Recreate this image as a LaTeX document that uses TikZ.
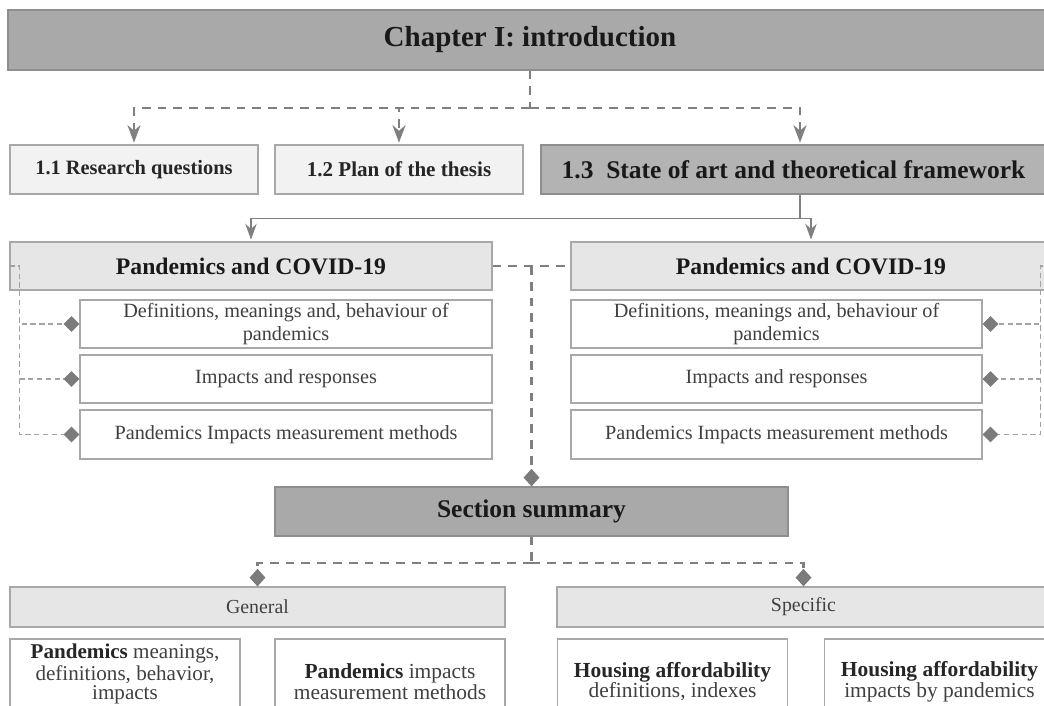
\documentclass[tikz,border=0pt]{standalone}
\usepackage{fontspec}
\setmainfont{Liberation Serif}
\usetikzlibrary{arrows.meta}

\definecolor{darkbox}{HTML}{A9A9A9}
\definecolor{soabox}{HTML}{B3B3B3}
\definecolor{midbox}{HTML}{E6E6E6}
\definecolor{lightbox}{HTML}{F2F2F2}
\definecolor{boxline}{HTML}{A8A8A8}
\definecolor{darkline}{HTML}{8E8E8E}
\definecolor{linkgray}{HTML}{808080}
\definecolor{sidegray}{HTML}{A3A3A3}
\definecolor{tipgray}{HTML}{7B7B7B}
\definecolor{textgray}{HTML}{404040}

\begin{document}
\begin{tikzpicture}[x=0.02cm,y=-0.02cm,
    box/.style={rectangle,draw=boxline,line width=0.7pt,inner sep=0pt,align=center},
    dark node/.style={box,fill=darkbox,draw=darkline,text=black!90},
    light node/.style={box,fill=lightbox,text=black!85},
    mid node/.style={box,fill=midbox,text=black!90},
    item node/.style={box,fill=white,text=textgray,
      font=\fontsize{11.5}{13}\selectfont,minimum height=0.96cm},
    leaf node/.style={box,fill=white,text=textgray,minimum width=4.6cm,
      minimum height=1.7cm,font=\fontsize{12.2}{11.8}\selectfont},
    dash link/.style={draw=linkgray,line width=1.2pt,dash pattern=on 5pt off 4pt},
    dash arrow/.style={dash link,-{Stealth[length=10pt,width=7.5pt]},shorten >=1pt},
    dash diamond/.style={dash link,-{Diamond[length=10pt,width=9pt,color=tipgray]}},
    solid link/.style={draw=linkgray,line width=0.7pt},
    solid arrow/.style={solid link,-{Stealth[length=9pt,width=6.5pt]},shorten >=1pt},
    side link/.style={draw=sidegray,line width=0.6pt,dash pattern=on 3pt off 2pt,
      -{Diamond[length=9pt,width=9pt,color=tipgray]}}]

    \useasboundingbox (0,0) rectangle (1044,706);

    % chapter and sections
    \node[dark node,minimum width=20.88cm,minimum height=1.2cm,
      font=\fontsize{16.5}{19}\selectfont\bfseries] (chap) at (530,40) {Chapter I: introduction};
    \node[light node,minimum width=4.96cm,minimum height=0.98cm,
      font=\fontsize{11.6}{14}\selectfont\bfseries] (rq) at (134,169.5) {1.1\ Research questions};
    \node[light node,minimum width=4.96cm,minimum height=0.98cm,
      font=\fontsize{12}{14}\selectfont\bfseries] (plan) at (399,169.5) {1.2 Plan of the thesis};
    \node[dark node,fill=soabox,minimum width=10.1cm,minimum height=0.98cm,
      font=\fontsize{14.5}{17}\selectfont\bfseries] (soa) at (793.5,169.5) {1.3\ \ State of art and theoretical framework};

    % pandemics blocks
    \node[mid node,minimum width=9.64cm,minimum height=0.96cm,
      font=\fontsize{13.5}{16}\selectfont\bfseries] (lpand) at (251,266) {Pandemics and COVID-19};
    \node[mid node,minimum width=9.6cm,minimum height=0.96cm,
      font=\fontsize{13.5}{16}\selectfont\bfseries] (rpand) at (811,266) {Pandemics and COVID-19};

    \node[item node,minimum width=8.24cm] (ldef) at (286,324) {Definitions, meanings and, behaviour of\\pandemics};
    \node[item node,minimum width=8.24cm] (limp) at (286,379) {Impacts and responses};
    \node[item node,minimum width=8.24cm,minimum height=0.98cm] (lmeth) at (286,434.5) {Pandemics Impacts measurement methods};
    \node[item node,minimum width=8.22cm] (rdef) at (776.5,324) {Definitions, meanings and, behaviour of\\pandemics};
    \node[item node,minimum width=8.22cm] (rimp) at (776.5,379) {Impacts and responses};
    \node[item node,minimum width=8.22cm,minimum height=0.98cm] (rmeth) at (776.5,434.5) {Pandemics Impacts measurement methods};

    % summary
    \node[dark node,minimum width=10.26cm,minimum height=0.98cm,
      font=\fontsize{14.5}{17}\selectfont\bfseries] (summ) at (531.5,511.5) {Section summary};
    \node[mid node,minimum width=9.9cm,minimum height=0.8cm,text=textgray,
      font=\fontsize{11.3}{13}\selectfont] (gen) at (257.5,607) {General};
    \node[mid node,minimum width=9.86cm,minimum height=0.8cm,text=textgray,
      font=\fontsize{11.3}{13}\selectfont] (spec) at (803.5,607) {Specific};

    \node[leaf node,font=\fontsize{12}{11}\selectfont,text depth=11pt] (gmean) at (125,681.5) {\textbf{\color{black!85}Pandemics} meanings,\\definitions, behavior,\\impacts};
    \node[leaf node] (gmeas) at (390,681.5) {\textbf{\color{black!85}Pandemics} impacts\\measurement methods};
    \node[leaf node] (hdef) at (672.5,681.5) {\textbf{\color{black!85}Housing affordability}\\definitions, indexes};
    \node[leaf node] (himp) at (939.5,681.5) {\textbf{\color{black!85}Housing affordability}\\impacts by pandemics};

    % connectors
    \path (chap.south) ++(0,37) coordinate (hub1);
    \draw[dash link] (chap) -- (hub1);
    \draw[dash arrow] (hub1) -| (rq);
    \draw[dash arrow] (hub1) -| (plan);
    \draw[dash arrow] (hub1) -| ([xshift=0.13cm]soa.north);

    \path ([xshift=0.13cm]soa.south) ++(0,24) coordinate (hub2);
    \draw[solid link] ([xshift=0.13cm]soa.south) -- (hub2);
    \draw[solid arrow] (hub2) -| (lpand);
    \draw[solid arrow] (hub2) -| (rpand);

    \foreach \n in {ldef,limp,lmeth}
      \draw[side link] (lpand.west) -- ++(10,0) |- (\n.west);
    \foreach \n in {rdef,rimp,rmeth}
      \draw[side link] (rpand.east) -- ++(-11,0) |- (\n.east);

    \draw[dash link] (lpand) -- (rpand);
    \draw[dash diamond] (lpand.east -| summ.north) -- (summ.north);

    \path (summ.south) ++(0,26) coordinate (hub3);
    \draw[dash link] (summ) -- (hub3);
    \draw[dash diamond] (hub3) -| (gen);
    \draw[dash diamond] (hub3) -| (spec);
\end{tikzpicture}
\end{document}
